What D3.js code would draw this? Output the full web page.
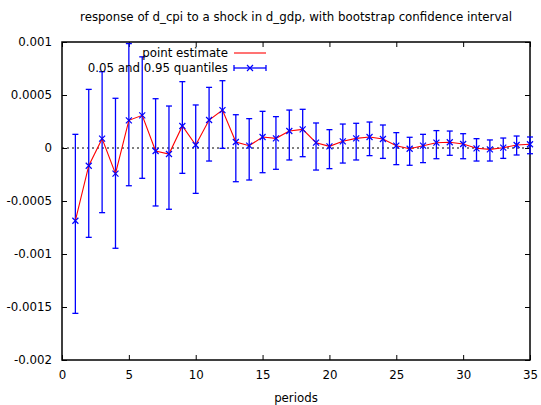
<!DOCTYPE html>
<html>
<head>
<meta charset="utf-8">
<script src="https://cdn.jsdelivr.net/npm/d3@7"></script>
<style>
  html, body { margin: 0; padding: 0; background: #fff; }
  text { font-family: "DejaVu Sans", sans-serif; }
</style>
</head>
<body>
<svg id="chart" width="541" height="405"></svg>
<script>
const titleText = "response of d_cpi to a shock in d_gdp, with bootstrap confidence interval";
const xLabel = "periods";
const periods = d3.range(1, 36);
const pointEstimate = [
  -0.000686, -0.000167, 0.000088, -0.000242, 0.000261, 0.000308, -0.000028, -0.000057,
  0.000208, 0.000028, 0.000264, 0.000358, 0.000057, 0.000022, 0.000104, 0.000091,
  0.000160, 0.000176, 0.000050, 0.000016, 0.000063, 0.000091, 0.000104, 0.000085,
  0.000022, -0.000007, 0.000022, 0.000050, 0.000054, 0.000038, -0.000003, -0.000013,
  0.000003, 0.000028, 0.000035
];
const upper95 = [
  0.000129, 0.000553, 0.000720, 0.000469, 0.000985, 0.000860, 0.000465, 0.000396,
  0.000626, 0.000406, 0.000572, 0.000635, 0.000314, 0.000277, 0.000346, 0.000296,
  0.000358, 0.000365, 0.000236, 0.000173, 0.000226, 0.000233, 0.000245, 0.000217,
  0.000145, 0.000101, 0.000129, 0.000164, 0.000160, 0.000135, 0.000088, 0.000076,
  0.000094, 0.000113, 0.000104
];
const lower05 = [
  -0.001560, -0.000843, -0.000610, -0.000946, -0.000356, -0.000286, -0.000547, -0.000578,
  -0.000239, -0.000428, -0.000123, -0.000003, -0.000318, -0.000302, -0.000233, -0.000201,
  -0.000113, -0.000082, -0.000208, -0.000195, -0.000142, -0.000113, -0.000072, -0.000098,
  -0.000157, -0.000163, -0.000138, -0.000101, -0.000069, -0.000101, -0.000123, -0.000123,
  -0.000098, -0.000066, -0.000054
];
const xTicks = [0, 5, 10, 15, 20, 25, 30, 35];
const yTicks = [-0.002, -0.0015, -0.001, -0.0005, 0, 0.0005, 0.001];
const yTickLabels = ["-0.002", "-0.0015", "-0.001", "-0.0005", "0", "0.0005", "0.001"];
const legendLabels = ["point estimate", "0.05 and 0.95 quantiles"];

const svg = d3.select("#chart");
const pLeft = 62, pRight = 530, pTop = 42, pBottom = 360;
const x = d3.scaleLinear().domain([0, 35]).range([pLeft, pRight]);
const y = d3.scaleLinear().domain([-0.002, 0.001]).range([pBottom, pTop]);
const fontSize = 11.8;
const blue = "#0000ff", red = "#ff0000";

// title
svg.append("text").attr("x", 296).attr("y", 21).attr("text-anchor", "middle")
  .attr("font-size", fontSize).text(titleText);

// zero line
svg.append("line").attr("x1", pLeft).attr("x2", pRight).attr("y1", y(0)).attr("y2", y(0))
  .attr("stroke", "#000").attr("stroke-width", 1).attr("stroke-dasharray", "2,3");

// axes (ticks inward)
const tickLen = 5;
const gx = svg.append("g").attr("transform", `translate(0,${pBottom})`)
  .call(d3.axisBottom(x).tickValues(xTicks).tickSize(-tickLen).tickPadding(tickLen + 6).tickFormat(d3.format("d")));
const gxTop = svg.append("g").attr("transform", `translate(0,${pTop})`)
  .call(d3.axisTop(x).tickValues(xTicks).tickSize(-tickLen).tickFormat(""));
const gy = svg.append("g").attr("transform", `translate(${pLeft},0)`)
  .call(d3.axisLeft(y).tickValues(yTicks).tickSize(-tickLen).tickPadding(tickLen + 5).tickFormat((d, i) => yTickLabels[i]));
const gyR = svg.append("g").attr("transform", `translate(${pRight},0)`)
  .call(d3.axisRight(y).tickValues(yTicks).tickSize(-tickLen).tickFormat(""));
[gx, gxTop, gy, gyR].forEach(g => {
  g.select(".domain").remove();
  g.selectAll("text").attr("font-size", fontSize).attr("font-family", "DejaVu Sans, sans-serif").attr("fill", "#000");
  g.selectAll("line").attr("stroke", "#000");
});
// border
svg.append("rect").attr("x", pLeft).attr("y", pTop).attr("width", pRight - pLeft).attr("height", pBottom - pTop)
  .attr("fill", "none").attr("stroke", "#000").attr("stroke-width", 1.5);

// x label
svg.append("text").attr("x", (pLeft + pRight) / 2).attr("y", 402).attr("text-anchor", "middle")
  .attr("font-size", fontSize).text(xLabel);

const plot = svg.append("g");

// error bars
const cap = 3;
const eb = plot.selectAll("g.eb").data(periods).join("g").attr("class", "eb");
eb.append("line").attr("x1", d => x(d)).attr("x2", d => x(d))
  .attr("y1", (d, i) => y(upper95[i])).attr("y2", (d, i) => y(lower05[i]))
  .attr("stroke", blue).attr("stroke-width", 1.3);
eb.append("line").attr("x1", d => x(d) - cap).attr("x2", d => x(d) + cap)
  .attr("y1", (d, i) => y(upper95[i])).attr("y2", (d, i) => y(upper95[i]))
  .attr("stroke", blue).attr("stroke-width", 1.3);
eb.append("line").attr("x1", d => x(d) - cap).attr("x2", d => x(d) + cap)
  .attr("y1", (d, i) => y(lower05[i])).attr("y2", (d, i) => y(lower05[i]))
  .attr("stroke", blue).attr("stroke-width", 1.3);

// red line
const line = d3.line().x((d, i) => x(periods[i])).y(d => y(d));
plot.append("path").datum(pointEstimate).attr("d", line)
  .attr("fill", "none").attr("stroke", red).attr("stroke-width", 1.1);

// x markers
const m = 3;
plot.selectAll("path.mk").data(periods).join("path").attr("class", "mk")
  .attr("d", (d, i) => {
    const cx = x(d), cy = y(pointEstimate[i]);
    return `M${cx - m},${cy - m}L${cx + m},${cy + m}M${cx - m},${cy + m}L${cx + m},${cy - m}`;
  })
  .attr("stroke", blue).attr("stroke-width", 1.2).attr("fill", "none");

// legend
const lgTextX = 228, lgX1 = 234, lgX2 = 266;
const lgY = [53, 68];
svg.append("text").attr("x", lgTextX).attr("y", lgY[0] + 4).attr("text-anchor", "end")
  .attr("font-size", fontSize).text(legendLabels[0]);
svg.append("line").attr("x1", lgX1).attr("x2", lgX2).attr("y1", lgY[0]).attr("y2", lgY[0])
  .attr("stroke", red).attr("stroke-width", 1.1);
svg.append("text").attr("x", lgTextX).attr("y", lgY[1] + 4).attr("text-anchor", "end")
  .attr("font-size", fontSize).text(legendLabels[1]);
svg.append("line").attr("x1", lgX1).attr("x2", lgX2).attr("y1", lgY[1]).attr("y2", lgY[1])
  .attr("stroke", blue).attr("stroke-width", 1.3);
[lgX1, lgX2].forEach(xx => svg.append("line").attr("x1", xx).attr("x2", xx)
  .attr("y1", lgY[1] - cap).attr("y2", lgY[1] + cap).attr("stroke", blue).attr("stroke-width", 1.3));
const lcx = (lgX1 + lgX2) / 2;
svg.append("path").attr("d", `M${lcx - m},${lgY[1] - m}L${lcx + m},${lgY[1] + m}M${lcx - m},${lgY[1] + m}L${lcx + m},${lgY[1] - m}`)
  .attr("stroke", blue).attr("stroke-width", 1.2);
</script>
</body>
</html>
